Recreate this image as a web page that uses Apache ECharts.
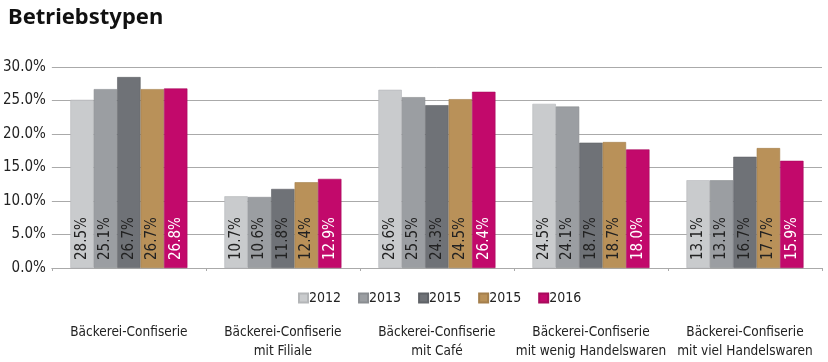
<!DOCTYPE html>
<html><head><meta charset="utf-8">
<script src="https://cdn.jsdelivr.net/npm/echarts@6/dist/echarts.min.js"></script>
<style>html,body{margin:0;padding:0;background:#fff}#c{width:828px;height:362px}</style>
</head><body><div id="c"></div>
<script>
const categories = ['Bäckerei-Confiserie', 'Bäckerei-Confiserie\nmit Filiale', 'Bäckerei-Confiserie\nmit Café', 'Bäckerei-Confiserie\nmit wenig Handelswaren', 'Bäckerei-Confiserie\nmit viel Handelswaren'];
const seriesNames = ['2012', '2013', '2015', '2015', '2016'];
const yTicks = [0, 5, 10, 15, 20, 25, 30];
// bar heights as drawn
const v2012 = [25.1, 10.7, 26.6, 24.5, 13.1];
const v2013 = [26.7, 10.6, 25.5, 24.1, 13.1];
const v2015a = [28.5, 11.8, 24.3, 18.7, 16.6];
const v2015b = [26.7, 12.8, 25.2, 18.8, 17.9];
const v2016 = [26.8, 13.3, 26.3, 17.7, 16.0];
// printed labels
const l2012 = ['28.5%', '10.7%', '26.6%', '24.5%', '13.1%'];
const l2013 = ['25.1%', '10.6%', '25.5%', '24.1%', '13.1%'];
const l2015a = ['26.7%', '11.8%', '24.3%', '18.7%', '16.7%'];
const l2015b = ['26.7%', '12.4%', '24.5%', '18.7%', '17.7%'];
const l2016 = ['26.8%', '12.9%', '26.4%', '18.0%', '15.9%'];

const values = [v2012, v2013, v2015a, v2015b, v2016];
const labels = [l2012, l2013, l2015a, l2015b, l2016];
const colors = ['#c9cbcd', '#9b9ea2', '#6f7277', '#b99159', '#c2096b'];
const borders = ['#b4b6b8', '#8a8d91', '#5f6267', '#a47f4c', '#a80a5c'];
const labelColors = ['#222', '#222', '#222', '#222', '#fff'];
const font = '"Liberation Sans Narrow", "DejaVu Sans Condensed", sans-serif';

const chart = echarts.init(document.getElementById('c'));
chart.setOption({
  animation: false,
  title: {text: 'Betriebstypen', left: 3, top: 2, textStyle: {fontFamily: '"Noto Sans", sans-serif', fontWeight: 'bold', fontSize: 22, color: '#111'}},
  legend: {
    top: 286, left: 293, icon: 'rect', itemWidth: 9, itemHeight: 9, itemGap: 17,
    textStyle: {fontFamily: font, fontSize: 14, color: '#222', padding: [0,0,0,-4]},
    formatter: n => n.slice(0, 4),
    data: seriesNames.map((n, i) => n + '_' + i)
  },
  grid: {left: 50, right: 6, top: 67, bottom: 94},
  xAxis: {
    type: 'category', data: categories,
    axisLine: {show: true, lineStyle: {color: '#aaa'}},
    axisTick: {show: true, length: 3, lineStyle: {color: '#aaa'}},
    axisLabel: {margin: 55, fontFamily: font, fontSize: 13.5, color: '#222', lineHeight: 19, interval: 0}
  },
  yAxis: {
    type: 'value', min: yTicks[0], max: yTicks[yTicks.length - 1], interval: yTicks[1] - yTicks[0],
    axisLine: {show: false}, axisTick: {show: false},
    axisLabel: {margin: 6, fontFamily: font, fontSize: 15, color: '#222', formatter: v => v.toFixed(1) + '%'},
    splitLine: {lineStyle: {color: '#aaa'}}
  },
  series: values.map((vals, i) => ({
    type: 'bar', name: seriesNames[i] + '_' + i, data: vals,
    barGap: '0%', barCategoryGap: '24%',
    itemStyle: {color: colors[i], borderColor: borders[i], borderWidth: 0.6},
    label: {
      show: true, position: 'insideBottom', rotate: 90, align: 'left', verticalAlign: 'middle', distance: 8,
      fontFamily: font, fontSize: 15, color: labelColors[i],
      formatter: p => labels[i][p.dataIndex]
    }
  }))
});
</script></body></html>
